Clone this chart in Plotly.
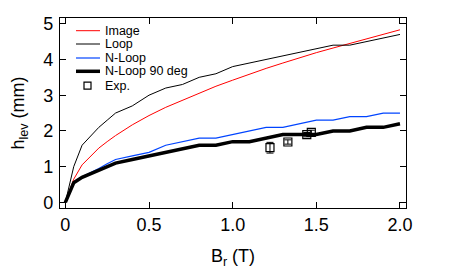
import plotly.graph_objects as go

br = [0, 0.05, 0.1, 0.15, 0.2, 0.25, 0.3, 0.4, 0.5, 0.6, 0.7, 0.8, 0.9, 1.0,
      1.1, 1.2, 1.3, 1.4, 1.5, 1.6, 1.7, 1.8, 1.9, 2.0]
image = [0, 0.65, 1.05, 1.3, 1.52, 1.7, 1.87, 2.17, 2.43, 2.66, 2.86, 3.06, 3.25, 3.42,
         3.59, 3.75, 3.9, 4.05, 4.19, 4.32, 4.45, 4.58, 4.7, 4.83]
loop = [0, 1.0, 1.6, 1.85, 2.1, 2.3, 2.5, 2.7, 3.0, 3.2, 3.3, 3.5, 3.6, 3.8,
        3.9, 4.0, 4.1, 4.2, 4.3, 4.4, 4.4, 4.5, 4.6, 4.7]
nloop = [0, 0.57, 0.72, 0.83, 0.95, 1.08, 1.2, 1.3, 1.4, 1.6, 1.7, 1.8, 1.8, 1.9,
         2.0, 2.1, 2.1, 2.2, 2.3, 2.3, 2.4, 2.4, 2.5, 2.5]
nloop90 = [0, 0.55, 0.7, 0.8, 0.9, 1.0, 1.1, 1.2, 1.3, 1.4, 1.5, 1.6, 1.6, 1.7,
           1.7, 1.8, 1.9, 1.9, 1.9, 2.0, 2.0, 2.1, 2.1, 2.2]
exp_x = [1.223, 1.33, 1.443, 1.47]
exp_y = [1.53, 1.69, 1.895, 1.96]
exp_err = [0.15, 0.06, 0.06, 0.06]

series_names = ["Image", "Loop", "N-Loop", "N-Loop 90 deg", "Exp."]
xtick_vals = [0, 0.5, 1.0, 1.5, 2.0]
xtick_text = ["0", "0.5", "1.0", "1.5", "2.0"]
ytick_vals = [0, 1, 2, 3, 4, 5]

FONT = "Liberation Sans, Arial"
styles = [dict(color="#ff0000", width=1), dict(color="#000000", width=1),
          dict(color="#0044ff", width=1.2), dict(color="#000000", width=3.5)]

fig = go.Figure()
for name, ys, st in zip(series_names[:4], [image, loop, nloop, nloop90], styles):
    fig.add_trace(go.Scatter(x=br, y=ys, mode="lines", name=name, line=st,
                             showlegend=False))
fig.add_trace(go.Scatter(x=exp_x, y=exp_y, mode="markers", name=series_names[4],
                         showlegend=False,
                         marker=dict(symbol="square-open", size=8, color="#000000",
                                     line=dict(width=1.2)),
                         error_y=dict(type="data", array=exp_err, color="#000000",
                                      thickness=1, width=3.5)))

# Custom compact legend (paper coordinates of the plot area, page pixels)
W, H = 346.0, 190.0
def px_x(p):
    return (p - 60) / W
def px_y(p):
    return (208 - p) / H

rows = [30.7, 44, 58, 71.3, 85.7]
shapes = []
annotations = []
for i, name in enumerate(series_names):
    yy = px_y(rows[i])
    if i < 4:
        shapes.append(dict(type="line", xref="paper", yref="paper",
                           x0=px_x(76), x1=px_x(100), y0=yy, y1=yy,
                           line=dict(color=styles[i]["color"], width=styles[i]["width"])))
    else:
        shapes.append(dict(type="rect", xref="paper", yref="paper",
                           x0=px_x(84), x1=px_x(91), y0=px_y(rows[i] + 3.5),
                           y1=px_y(rows[i] - 3.5),
                           line=dict(color="#000000", width=1.2)))
    annotations.append(dict(text=name, xref="paper", yref="paper", x=px_x(103), y=yy,
                            xanchor="left", yanchor="middle", showarrow=False,
                            font=dict(family=FONT, size=12.5, color="#000000")))

axis_common = dict(showgrid=False, zeroline=False, showline=True, linecolor="#000000",
                   linewidth=1.2, mirror="ticks", ticks="inside", ticklen=6,
                   tickcolor="#000000", tickwidth=1, automargin=False,
                   tickfont=dict(family=FONT, size=18, color="#000000"))

# page body has an 8px margin, so the figure is shifted by 8px
fig.update_layout(
    width=450, height=271,
    margin=dict(l=52, r=52, t=10, b=71, autoexpand=False),
    paper_bgcolor="#ffffff", plot_bgcolor="#ffffff",
    showlegend=False,
    shapes=shapes, annotations=annotations,
    xaxis=dict(range=[-0.032, 2.036], tickvals=xtick_vals, ticktext=xtick_text,
               title=dict(text="B<sub>r</sub> (T)",
                          font=dict(family=FONT, size=18, color="#000000")),
               **axis_common),
    yaxis=dict(range=[-0.157, 5.16], tickvals=ytick_vals, ticklabelstandoff=2,
               title=dict(text="h<sub>lev</sub> (mm)",
                          font=dict(family=FONT, size=18, color="#000000")),
               **axis_common),
)

fig.write_html("out.html")
